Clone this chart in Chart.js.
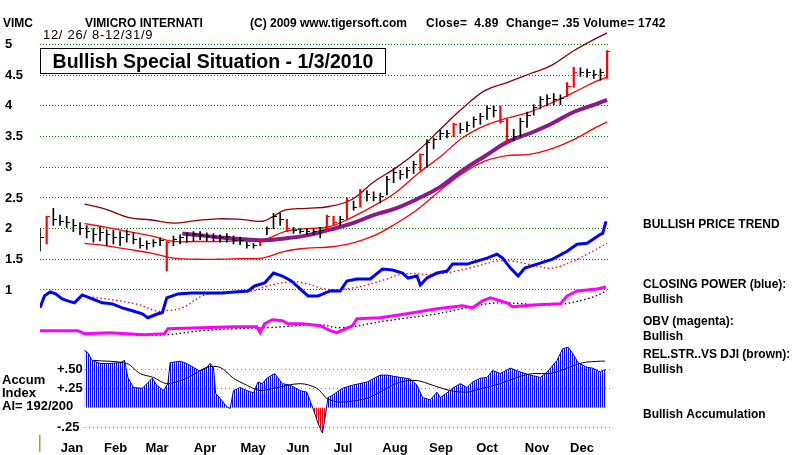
<!DOCTYPE html>
<html>
<head>
<meta charset="utf-8">
<script src="https://cdn.jsdelivr.net/npm/chart.js@4"></script>
<style>
  html, body { margin: 0; padding: 0; background: #fff; }
  canvas { display: block; }
</style>
</head>
<body>
<canvas id="chart" width="800" height="455" style="width:800px;height:455px"></canvas>
<script>
// trading days counted from 12/26/08, one bar every 3 days
const highs = [2.00,2.20,2.33,2.22,2.20,2.15,2.10,2.05,2.00,2.02, 1.98,1.97,1.95,1.98,1.93,1.85,1.80,1.82,1.85,1.79,
  1.88,1.90,1.93,1.95,1.95,1.93,1.92,1.90,1.92,1.88, 1.86,1.78,1.76,1.82,2.03,2.25,2.25,2.15,2.02,2.00,
  2.00,2.00,2.02,2.22,2.20,2.20,2.50,2.45,2.64,2.62, 2.60,2.58,2.85,2.98,2.95,3.00,3.10,3.22,3.45,3.48,
  3.60,3.60,3.72,3.72,3.74,3.82,3.88,4.00,4.00,4.00, 3.78,3.62,3.80,3.90,4.02,4.15,4.18,4.20,4.18,4.38,
  4.63,4.62,4.60,4.58,4.60,4.90];
const lows = [1.63,1.75,2.05,2.05,2.02,1.95,1.90,1.85,1.78,1.80, 1.72,1.75,1.72,1.78,1.75,1.68,1.66,1.70,1.72,1.31,
  1.72,1.75,1.78,1.80,1.82,1.80,1.80,1.78,1.78,1.75, 1.74,1.68,1.68,1.72,1.90,2.00,2.05,1.95,1.92,1.92,
  1.90,1.90,1.85,1.97,2.05,2.05,2.15,2.30,2.35,2.45, 2.45,2.42,2.55,2.75,2.80,2.82,2.90,2.95,3.00,3.30,
  3.45,3.48,3.50,3.55,3.58,3.65,3.70,3.78,3.82,3.72, 3.38,3.43,3.50,3.65,3.85,3.95,4.00,4.02,4.02,4.15,
  4.30,4.48,4.47,4.45,4.42,4.45];
const closes = [1.85,2.20,2.15,2.12,2.10,2.05,2.00,1.95,1.90,1.93, 1.90,1.85,1.85,1.90,1.83,1.72,1.75,1.78,1.80,1.78,
  1.82,1.85,1.88,1.90,1.88,1.87,1.86,1.85,1.87,1.80, 1.80,1.72,1.72,1.80,2.00,2.20,2.15,2.00,1.97,1.96,
  1.95,1.95,1.97,2.20,2.10,2.15,2.45,2.35,2.60,2.55, 2.50,2.52,2.80,2.92,2.88,2.95,3.05,3.20,3.40,3.45,
  3.55,3.55,3.70,3.62,3.68,3.78,3.82,3.95,3.92,3.75, 3.45,3.50,3.75,3.85,3.98,4.10,4.12,4.10,4.12,4.32,
  4.55,4.55,4.55,4.52,4.55,4.89];
const redBars = [1, 19, 33, 37, 43, 44, 46, 48, 57, 62, 69, 70, 79, 80, 85];
const barDays = highs.map((_, i) => i * 3);

// bands and moving average [day, price]
const upperBand = [[20,2.40],[30,2.31],[40,2.18],[50,2.14],[60,2.09],[70,2.13],[80,2.16],[90,2.15],[100,2.12],[105,2.20],
  [110,2.30],[120,2.33],[130,2.36],[140,2.47],[150,2.76],[160,2.99],[170,3.27],[180,3.62],[190,3.96],[200,4.25],
  [210,4.38],[220,4.52],[230,4.66],[240,4.90],[250,5.10],[255,5.19]];
const innerBand = [[20,2.08],[30,2.02],[40,1.95],[50,1.88],[60,1.79],[70,1.79],[80,1.79],[90,1.80],[100,1.81],[110,1.95],
  [120,2.00],[130,2.03],[140,2.18],[150,2.37],[160,2.59],[170,2.90],[180,3.17],[190,3.48],[200,3.68],[210,3.80],
  [220,3.90],[230,4.05],[240,4.22],[250,4.40],[255,4.47]];
const lowerBand = [[20,1.76],[30,1.72],[40,1.66],[50,1.60],[60,1.52],[70,1.50],[80,1.50],[90,1.51],[100,1.52],[110,1.63],
  [120,1.68],[130,1.70],[140,1.76],[150,1.88],[160,2.08],[170,2.32],[180,2.62],[190,2.90],[200,3.10],[210,3.19],
  [220,3.21],[230,3.30],[240,3.45],[250,3.65],[255,3.74]];
const priceMA = [[64,1.92],[70,1.90],[80,1.86],[90,1.83],[100,1.81],[110,1.84],[120,1.89],[130,1.98],[140,2.08],[150,2.22],
  [160,2.33],[170,2.49],[180,2.68],[190,2.95],[200,3.18],[210,3.41],[220,3.55],[230,3.71],[240,3.90],[250,4.03],[255,4.10]];

// closing power
const closingPower = [[0,13],[2,25],[4.5,29],[7,27],[10,22],[12.5,20],[15.5,18],[19,26],[23.5,22],[28,18],[32.5,17],
  [37,13],[41.5,10],[46,7],[48.5,3],[53,7],[55,8],[57,23],[62,27],[68,28],[75.5,28],[82,28],[87.5,29],[93.5,30],
  [96.5,35],[101,38],[105,48],[109,45],[113,40],[118,30],[120.5,25],[125,25],[130.5,30],[135,30],[138,40],
  [142.5,42],[148.5,42],[154,52],[158.5,51],[163,48],[165.5,43],[169.5,45],[171,36],[174,43],[178.5,48],[183,50],
  [185.5,57],[192,57],[196.5,60],[201,63],[205.5,67],[208,63],[211.5,53],[215,45],[218,53],[223.5,57],[230.5,62],
  [237,70],[241.5,77],[246,78],[252,87],[253,88],[254.5,100]];
const closingPowerMA = [[20,25],[43,17],[52,10],[56,10],[64,13],[73,25],[82,29],[93.5,29],[102.5,35],[111.5,39],
  [119,38],[128,32],[140.5,33],[156,42],[163,47],[178.5,47],[193,53],[205.5,60],[212.5,60],[223.5,55],[230.5,53],
  [239.5,60],[246,67],[255,78]];

// on balance volume
const obv = [[0,10],[17,10],[20,7],[31.5,8],[47,6],[56,7],[57.5,12],[73,13],[87.5,14],[97.5,14],[99,8],[101,17],
  [104.5,21],[109,20],[111.5,17],[118,17],[126,15],[130.5,10],[133.5,8],[140.5,15],[142.5,22],[153,23],[165,27],
  [178.5,32],[190,35],[194.5,33],[199,40],[202.5,43],[210,38],[212.5,34],[223.5,36],[234,37],[237,45],[241.5,50],
  [250.5,52],[254.5,54]];
const obvMA = [[43,5],[57.5,6],[73,10],[87.5,12],[102.5,13],[126,16],[135,13],[156,20],[178.5,27],[201,37],[210,38],
  [230.5,36],[246,42],[255,50]];

// relative strength vs DJI
const relStr = [[0,3],[4.5,7],[12.5,6],[20,8],[27,6],[42,9],[49.5,6],[57.5,6],[72,3],[87,1],[100,4],[105,8],[109,5],
  [117,4],[126,3],[135,10],[140.5,11],[154,13],[167.5,18],[178.5,22],[189,25],[201,28],[207,27],[212.5,23],[214.5,22],
  [221.5,28],[234,28],[241.5,31],[252,33],[253,32],[254.5,37]];
const relStrMA = [[20,6],[49.5,6],[72,5],[100,4],[126,3],[156,12],[185.5,20],[216,25],[246,30],[254.5,32]];

// accumulation index
const accum = [[20,0.74],[21.5,0.71],[23.5,0.61],[27,0.57],[31.5,0.57],[36,0.58],[38,0.61],[39.5,0.39],[42,0.26],
  [46,0.25],[50.5,0.38],[52.5,0.29],[55.5,0.22],[57.5,0.31],[58.5,0.58],[63,0.60],[66,0.57],[69,0.52],[72,0.47],
  [75,0.52],[76.5,0.57],[78,0.52],[79,0.18],[81,0.12],[84,0.01],[85.5,-0.01],[87,0.22],[90,0.26],[93,0.22],
  [96,0.19],[98,0.33],[100,0.31],[102,0.38],[105.5,0.44],[109,0.31],[112.5,0.29],[117,0.22],[120,0.20],
  [123,-0.03],[125,-0.20],[127,-0.33],[128,-0.16],[129.5,0.13],[131.5,0.16],[136,0.25],[140.5,0.29],[147,0.33],
  [153,0.42],[156,0.42],[162,0.39],[166.5,0.37],[169.5,0.29],[172,0.13],[175.5,0.10],[178.5,0.20],[180,0.13],
  [183,0.19],[185.5,0.25],[189,0.31],[192,0.26],[194.5,0.33],[198,0.38],[201,0.39],[203.5,0.48],[207,0.44],
  [211.5,0.51],[216,0.46],[220.5,0.42],[225,0.39],[228,0.46],[232.5,0.61],[235,0.76],[237.5,0.78],[239.5,0.70],
  [242,0.58],[246,0.52],[248.5,0.51],[252,0.46],[253,0.48],[254.5,0.49]];
const accumMA = [[24,0.61],[39,0.57],[45,0.44],[51,0.39],[57,0.31],[66,0.38],[75,0.52],[81,0.52],[87,0.38],[91.5,0.31],
  [99,0.22],[105,0.25],[117,0.31],[124.5,0.25],[129,0.12],[135,0.07],[147,0.12],[154,0.22],[162,0.33],[169.5,0.35],
  [176.5,0.29],[184.5,0.22],[192,0.20],[199,0.25],[207,0.31],[214.5,0.39],[221.5,0.44],[229.5,0.44],[237,0.51],
  [244,0.58],[252,0.60],[254,0.60]];

const priceTicks = [1, 1.5, 2, 2.5, 3, 3.5, 4, 4.5, 5];
const accumTicks = [0.5, 0.25, -0.25];
const accumTickLabels = ["+.50", "+.25", "-.25"];
const monthTicks = [14.4, 34, 52.6, 74.2, 95.8, 116, 136.2, 159.6, 180.3, 201, 223.5, 243.7];
const monthLabels = ["Jan", "Feb", "Mar", "Apr", "May", "Jun", "Jul", "Aug", "Sep", "Oct", "Nov", "Dec"];

const FONT = '"Liberation Sans", Arial, sans-serif';
const AREA_TOP = 5, AREA_BOTTOM = 433;

// hidden axis placed so that value v0 sits at pixel px0
function stackAxis(v0, px0, pxPerUnit) {
    return {
        type: "linear",
        display: false,
        min: v0 - (AREA_BOTTOM - px0) / pxPerUnit,
        max: v0 + (px0 - AREA_TOP) / pxPerUnit
    };
}

function stripes(color) {
    const c = document.createElement("canvas");
    c.width = 2; c.height = 1;
    const g = c.getContext("2d");
    g.fillStyle = color;
    g.fillRect(0, 0, 1, 1);
    return g.createPattern(c, "repeat");
}

function closeTick(color) {
    const c = document.createElement("canvas");
    c.width = 7; c.height = 1;
    const g = c.getContext("2d");
    g.fillStyle = color;
    g.fillRect(4, 0, 3, 1);
    return c;
}

function line(pairs, axis, color, width, dash, order, tension) {
    return {
        type: "line",
        yAxisID: axis,
        data: pairs.map(p => ({ x: p[0], y: p[1] })),
        borderColor: color,
        borderWidth: width,
        borderDash: dash || [],
        pointRadius: 0,
        tension: tension || 0,
        fill: false,
        order
    };
}

const isRed = i => redBars.includes(i);
const blackIdx = barDays.map((d, i) => i).filter(i => !isRed(i));

const datasets = [
    {
        type: "bar", yAxisID: "y", order: 1, grouped: false,
        data: blackIdx.map(i => ({ x: barDays[i], y: [lows[i], highs[i]] })),
        backgroundColor: "#000", barThickness: 1
    },
    {
        type: "bar", yAxisID: "y", order: 1, grouped: false,
        data: redBars.map(i => ({ x: barDays[i], y: [lows[i], highs[i]] })),
        backgroundColor: "#ff0000", barThickness: 1.5
    },
    {
        type: "line", yAxisID: "y", order: 0, showLine: false,
        data: blackIdx.map(i => ({ x: barDays[i], y: closes[i] })),
        pointStyle: closeTick("#000")
    },
    {
        type: "line", yAxisID: "y", order: 0, showLine: false,
        data: redBars.map(i => ({ x: barDays[i], y: closes[i] })),
        pointStyle: closeTick("#ff0000")
    },
    line(upperBand, "y", "#8b0000", 1.3, null, 3, 0.4),
    line(innerBand, "y", "#ff0000", 1.3, null, 3, 0.4),
    line(lowerBand, "y", "#ff0000", 1.3, null, 3, 0.4),
    line(priceMA, "y", "#8a1a8a", 4, null, 2, 0.4),
    line(closingPower, "cp", "#0000ff", 3, null, 4),
    line(closingPowerMA, "cp", "#ff0000", 1.3, [1.5, 2.5], 5, 0.4),
    line(obv, "obv", "#ff00ff", 3, null, 4),
    line(obvMA, "obv", "#000", 1.3, [1.5, 2.5], 5, 0.4),
    line(relStr, "rs", "#000", 2.5, null, 4),
    line(relStrMA, "rs", "#ff0000", 1.3, [1.5, 2.5], 5, 0.4),
    Object.assign(line(accum, "acc", "#0000aa", 1, null, 8), {
        fill: { target: { value: 0 }, above: stripes("#0000ff"), below: stripes("#ff0000") }
    }),
    line(accumMA, "acc", "#000", 1, null, 7, 0.3)
];

const decor = {
    id: "decor",
    beforeDatasetsDraw(chart) {
        const ctx = chart.ctx, acc = chart.scales.acc, ca = chart.chartArea;
        ctx.save();
        ctx.strokeStyle = "#b07878";
        ctx.lineWidth = 1;
        ctx.setLineDash([1, 3]);
        accumTicks.forEach(v => {
            const y = Math.round(acc.getPixelForValue(v)) + 0.5;
            ctx.beginPath();
            ctx.moveTo(85, y);
            ctx.lineTo(ca.right, y);
            ctx.stroke();
        });
        ctx.restore();
    },
    afterDatasetsDraw(chart) {
        const ctx = chart.ctx, acc = chart.scales.acc;
        ctx.save();
        ctx.fillStyle = "#000";
        ctx.textBaseline = "alphabetic";
        ctx.textAlign = "left";

        ctx.font = "bold 12px " + FONT;
        ctx.fillText("VIMC", 3, 27);
        ctx.fillText("VIMICRO INTERNATI", 85, 27);
        ctx.fillText("(C) 2009 www.tigersoft.com", 250, 27);
        ctx.letterSpacing = "0.25px";
        ctx.fillText("Close=  4.89  Change= .35 Volume= 1742", 426, 27);

        ctx.font = "13px " + FONT;
        ctx.letterSpacing = "0.7px";
        ctx.fillText("12/ 26/ 8-12/31/9", 43, 39);
        ctx.letterSpacing = "0px";

        // headline box
        ctx.fillStyle = "#fff";
        ctx.fillRect(40, 48, 346, 26);
        ctx.strokeStyle = "#000";
        ctx.lineWidth = 1;
        ctx.strokeRect(40.5, 48.5, 345, 25);
        ctx.fillStyle = "#000";
        ctx.font = "bold 19.5px " + FONT;
        ctx.textAlign = "center";
        ctx.fillText("Bullish Special Situation - 1/3/2010", 213, 68);

        // right side verdicts
        ctx.textAlign = "left";
        ctx.font = "bold 12px " + FONT;
        const right = [
            ["BULLISH PRICE TREND", 228],
            ["CLOSING POWER (blue):", 288],
            ["Bullish", 303],
            ["OBV (magenta):", 325],
            ["Bullish", 340],
            ["REL.STR..VS DJI (brown):", 358],
            ["Bullish", 373],
            ["Bullish Accumulation", 418]
        ];
        right.forEach(([t, y]) => ctx.fillText(t, 643, y));

        // accumulation panel labels
        ctx.font = "bold 13px " + FONT;
        ctx.fillText("Accum", 2, 384);
        ctx.fillText("Index", 2, 397);
        ctx.fillText("AI= 192/200", 2, 410);
        ctx.textBaseline = "middle";
        accumTicks.forEach((v, i) => {
            ctx.fillText(accumTickLabels[i], 57, acc.getPixelForValue(v));
        });

        ctx.fillStyle = "#a0a040";
        ctx.fillRect(39, 435, 1.5, 17);
        ctx.restore();
    }
};

const chart = new Chart(document.getElementById("chart"), {
    type: "line",
    data: { datasets },
    plugins: [decor],
    options: {
        responsive: false,
        animation: false,
        devicePixelRatio: 1,
        layout: { padding: { left: 5, right: 190, top: AREA_TOP, bottom: 0 } },
        plugins: {
            legend: { display: false },
            tooltip: { enabled: false }
        },
        scales: {
            x: {
                type: "linear",
                min: 0,
                max: 256.3,
                offset: false,
                grid: { display: false },
                border: { display: false },
                afterFit: s => { s.height = 22; },
                afterBuildTicks: s => { s.ticks = monthTicks.map(v => ({ value: v })); },
                ticks: {
                    autoSkip: false,
                    maxRotation: 0,
                    padding: 0,
                    color: "#000",
                    font: { family: FONT, size: 13, weight: "bold" },
                    callback: (v, i) => monthLabels[i]
                }
            },
            y: Object.assign(stackAxis(1, 289, 61.75), {
                display: true,
                position: "left",
                afterFit: s => { s.width = 35; },
                afterBuildTicks: s => { s.ticks = priceTicks.map(v => ({ value: v })); },
                grid: {
                    color: "#008000",
                    lineWidth: 1,
                    drawTicks: false
                },
                border: { display: false, dash: [1, 2] },
                ticks: {
                    crossAlign: "far",
                    padding: 0,
                    color: "#000",
                    font: { family: FONT, size: 13, weight: "bold" },
                    callback: v => String(v)
                }
            }),
            cp: stackAxis(0, 320, 1),
            obv: stackAxis(0, 340, 1),
            rs: stackAxis(0, 365, 1),
            acc: stackAxis(0, 407.5, 78)
        }
    }
});
</script>
</body>
</html>
